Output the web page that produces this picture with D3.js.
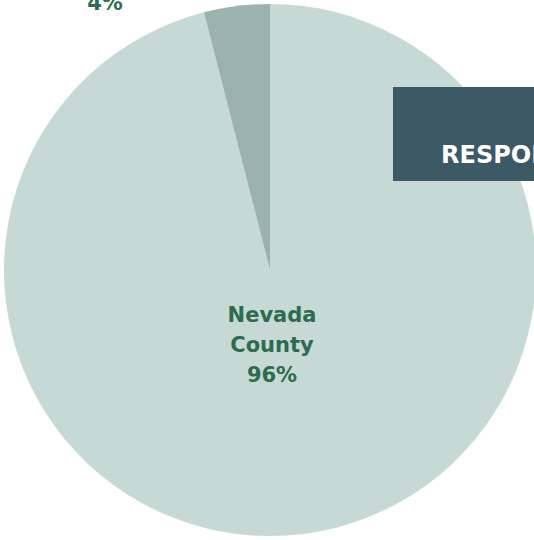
<!DOCTYPE html>
<html><head><meta charset="utf-8">
<script src="https://cdn.jsdelivr.net/npm/d3@7"></script>
<style>body{margin:0;background:#fff;overflow:hidden}svg{display:block}</style>
</head><body>
<script>
const categories = ["Nevada County", "Other"];
const values = [96, 4];
const labelLines = [["Nevada", "County", "96%"], ["4%"]];
const colors = ["#c7d9d4", "#9cb2ae"];

const W = 534, H = 540;
const svg = d3.select("body").append("svg").attr("width", W).attr("height", H);
const cx = 270, cy = 270, r = 266;
const pie = d3.pie().sort(null).startAngle(0).endAngle(2 * Math.PI).value(d => d);
const arcs = pie(values);
const arc = d3.arc().innerRadius(0).outerRadius(r);
const g = svg.append("g").attr("transform", `translate(${cx},${cy})`);
g.selectAll("path").data(arcs).join("path")
  .attr("d", arc).attr("fill", (d, i) => colors[i]);

const font = "'DejaVu Sans', sans-serif";
// main label
const t0 = g.append("text").attr("text-anchor", "middle")
  .attr("font-family", font).attr("font-weight", 700).attr("font-size", 21)
  .attr("fill", "#2b6b4f");
labelLines[0].forEach((s, i) => t0.append("tspan").attr("x", 2).attr("y", 52 + i * 30).text(s));
// small slice label (outside)
g.append("text").attr("text-anchor", "middle")
  .attr("font-family", font).attr("font-weight", 700).attr("font-size", 21)
  .attr("fill", "#2b6b4f").attr("x", 105 - cx).attr("y", 10 - cy).text(labelLines[1][0]);

// overlay box
svg.append("rect").attr("x", 393).attr("y", 87).attr("width", 160).attr("height", 94).attr("fill", "#3d5966");
svg.append("text").attr("x", 441).attr("y", 163).attr("font-family", font).attr("font-weight", 700)
  .attr("font-size", 24).attr("fill", "#fff").text("RESPONSES");
</script>
</body></html>
